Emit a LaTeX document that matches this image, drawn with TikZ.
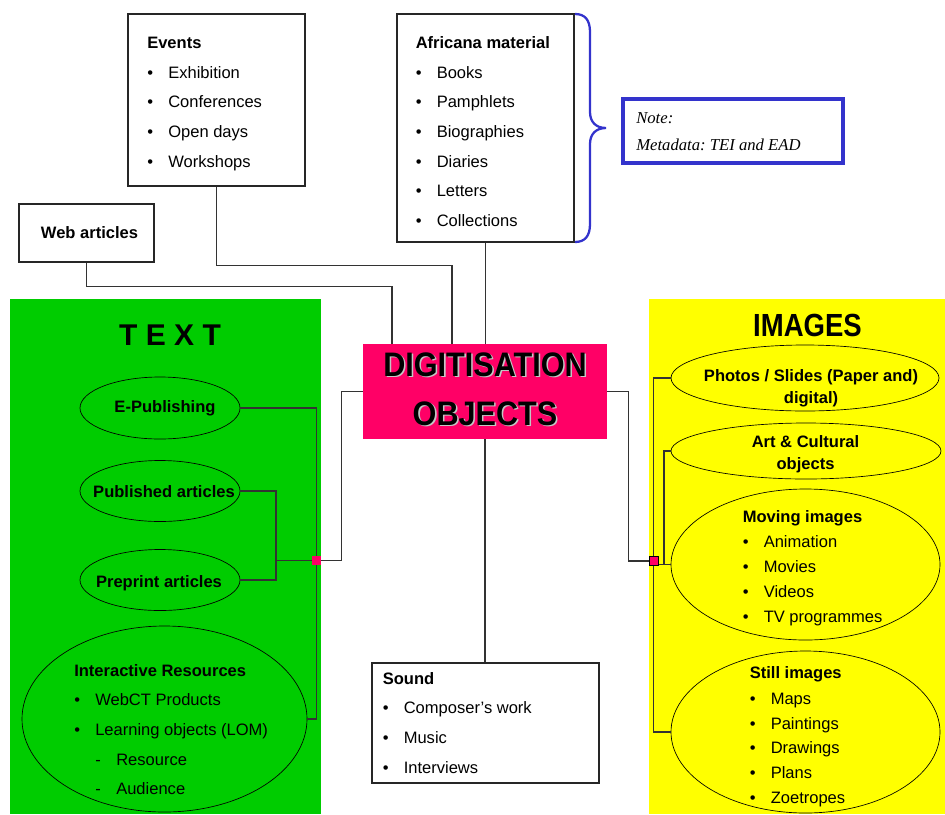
\documentclass[tikz,border=0pt]{standalone}
\usepackage{fontspec}
\setmainfont{Liberation Sans}
\newfontfamily\notefont{Liberation Serif}
\usetikzlibrary{shapes.geometric,fit,calc}
\definecolor{tgreen}{HTML}{00CC00}
\definecolor{tyellow}{HTML}{FFFF00}
\definecolor{dpink}{HTML}{FF0066}
\definecolor{nblue}{HTML}{3333CC}
\definecolor{lgrey}{HTML}{333333}
\frenchspacing
\newcommand{\bul}[1]{\makebox[15.75pt][l]{•}#1}
\newcommand{\dsh}[1]{\hspace*{15.75pt}\makebox[15.75pt][l]{-}#1}
\newcommand{\shtext}[1]{\makebox[0pt][l]{\hspace*{1.3pt}\raisebox{-1.3pt}{\color{gray!45}#1}}#1}
\begin{document}
\begin{tikzpicture}[x=0.75pt,y=-0.75pt,
  box/.style={draw=black!85, line width=0.8pt, fill=white, inner sep=0pt},
  txt/.style={inner sep=0pt, anchor=base west, font=\fontsize{12.4}{14}\selectfont},
  hd/.style={inner sep=0pt, anchor=base west, font=\fontsize{12.4}{14}\selectfont\bfseries},
  ctr/.style={inner sep=0pt, anchor=base, font=\fontsize{12.4}{14}\selectfont\bfseries},
  conn/.style={draw=lgrey, line width=0.8pt},
  ell/.style={ellipse, draw=black, line width=0.5pt, inner sep=0pt},
  sq/.style={rectangle, fill=dpink, minimum size=6.75pt, inner sep=0pt},
  notetxt/.style={inner sep=0pt, anchor=base west, font=\notefont\itshape\fontsize{12.5}{14}\selectfont}]
\useasboundingbox (0,0) rectangle (945,814);

% panels
\node[fill=tgreen, inner sep=0pt, fit={(10,299) (321,814)}] (textpanel) {};
\node[fill=tyellow, inner sep=0pt, fit={(649,299) (945,814)}] (imgpanel) {};
\node[inner sep=0pt, anchor=base, font=\fontsize{22.5}{26}\selectfont\bfseries] (ttext) at (170,345) {T E X T};
\node[inner sep=0pt, anchor=base, font=\fontsize{24}{28}\selectfont\bfseries] (timg) at (807.5,336) {\scalebox{0.86}[1]{IMAGES}};

% boxes
\node[box, fit={(128,14) (305,186)}] (events) {};
\node[box, fit={(19,204) (154,262)}] (web) {};
\node[ctr] (webt) at (89.5,238) {Web articles};
\node[box, fit={(397,14) (574,242)}] (afr) {};
\node[box, fit={(372,663) (599,783)}] (sound) {};
\node[fill=dpink, inner sep=0pt, fit={(363,344) (607,439)}] (dobj) {};
\node[draw=nblue, line width=2.5pt, fill=white, inner sep=0pt, fit={(623,99) (843,163)}] (note) {};

% brace
\draw[nblue, line width=1.7pt] (575,14) .. controls (585,14) and (590,20) .. (590,32) -- (590,112)
  .. controls (590,122) and (596,128) .. (606,128) .. controls (596,128) and (590,134) .. (590,144)
  -- (590,224) .. controls (590,236) and (585,242) .. (575,242);

% note text
\node[notetxt] (note1) at (636,123) {Note:};
\node[notetxt] (note2) at (636,150) {Metadata: TEI and EAD};

% events
\node[hd] (evh) at (147,48) {Events};
\foreach \t/\y [count=\i] in {Exhibition/78, Conferences/107.5, Open days/137, Workshops/167}
  \node[txt] (ev\i) at (147,\y) {\bul{\t}};

% africana
\node[hd] (afh) at (415.5,48) {Africana material};
\foreach \t/\y [count=\i] in {Books/78, Pamphlets/107.5, Biographies/137, Diaries/167, Letters/196, Collections/226}
  \node[txt] (af\i) at (415.5,\y) {\bul{\t}};

% sound
\node[hd] (soh) at (382.5,684) {Sound};
\foreach \t/\y [count=\i] in {Composer’s work/713.5, Music/743, Interviews/773}
  \node[txt] (so\i) at (382.5,\y) {\bul{\t}};

% central box text
\node[inner sep=0pt, anchor=base, font=\fontsize{25.5}{30}\selectfont\bfseries] (dt1) at (485,376) {\scalebox{0.9}[1]{\shtext{DIGITISATION}}};
\node[inner sep=0pt, anchor=base, font=\fontsize{25.5}{30}\selectfont\bfseries] (dt2) at (485,425) {\scalebox{0.9}[1]{\shtext{OBJECTS}}};

% ellipses left
\node[ell, minimum width=120pt, minimum height=46.5pt] (epub) at (160,408) {};
\node[ell, minimum width=120pt, minimum height=45.75pt] (pub) at (160,491) {};
\node[ell, minimum width=120pt, minimum height=45.75pt] (prep) at (160,580) {};
\node[ell, minimum width=213.75pt, minimum height=139.5pt] (inter) at (164.5,719) {};
\node[ctr] (epubt) at (165,412) {E-Publishing};
\node[ctr] (pubt) at (164,497) {Published articles};
\node[ctr] (prept) at (159,587) {Preprint articles};
\node[hd] (inth) at (74,676) {Interactive Resources};
\node[txt] (int1) at (74,705) {\bul{WebCT Products}};
\node[txt] (int2) at (74,735) {\bul{Learning objects (LOM)}};
\node[txt] (int3) at (74,765) {\dsh{Resource}};
\node[txt] (int4) at (74,794) {\dsh{Audience}};

% ellipses right
\node[ell, minimum width=201pt, minimum height=49.5pt] (photo) at (805,378) {};
\node[ell, minimum width=202.5pt, minimum height=42pt] (art) at (806,451) {};
\node[ell, minimum width=201.75pt, minimum height=113.25pt] (moving) at (805.5,564.5) {};
\node[ell, minimum width=201.75pt, minimum height=121.5pt] (still) at (805.5,732) {};
\node[ctr] (pht1) at (811,381) {Photos / Slides (Paper and)};
\node[ctr] (pht2) at (811,403) {digital)};
\node[ctr] (art1) at (805.5,447) {Art \& Cultural};
\node[ctr] (art2) at (805.5,469) {objects};
\node[hd] (movh) at (742.5,522) {Moving images};
\foreach \t/\y [count=\i] in {Animation/547, Movies/572, Videos/597, TV programmes/622}
  \node[txt] (mov\i) at (742.5,\y) {\bul{\t}};
\node[hd] (stih) at (749.5,678) {Still images};
\foreach \t/\y [count=\i] in {Maps/704, Paintings/729, Drawings/753, Plans/778, Zoetropes/803}
  \node[txt] (sti\i) at (749.5,\y) {\bul{\t}};

% connectors
\coordinate (lj) at (276,560.5);
\coordinate (rj) at (664,564.5);
\coordinate (lsqc) at (316.5,560.5);
\coordinate (rsqc) at (653.5,561);
\draw[conn] (web.south) -- ++(0,24) -| ($(dobj.north)+(-93,0)$);
\draw[conn] (events.south) -- ++(0,79) -| ($(dobj.north)+(-33,0)$);
\draw[conn] (afr.south) -- (afr.south |- dobj.north);
\draw[conn] (dobj.south) -- (dobj.south |- sound.north);
\draw[conn] (dobj.west) -- ++(-21,0) |- (lsqc);
\draw[conn] (dobj.east) -- ++(21,0) |- (rsqc);
\draw[conn] (epub.east) -| (lsqc) |- (inter.east);
\draw[conn] (pub.east) -| (lj) |- (prep.east);
\draw[conn] (lj) -- (lsqc);
\draw[conn] (photo.west) -| (rsqc) |- (still.west);
\draw[conn] (art.west) -| (rj) -- (moving.west);
\draw[conn] (rsqc |- rj) -- (rj);

% junction squares
\node[sq] (lsq) at (lsqc) {};
\node[sq, draw=black, line width=0.5pt] (rsq) at (rsqc) {};
\end{tikzpicture}
\end{document}
